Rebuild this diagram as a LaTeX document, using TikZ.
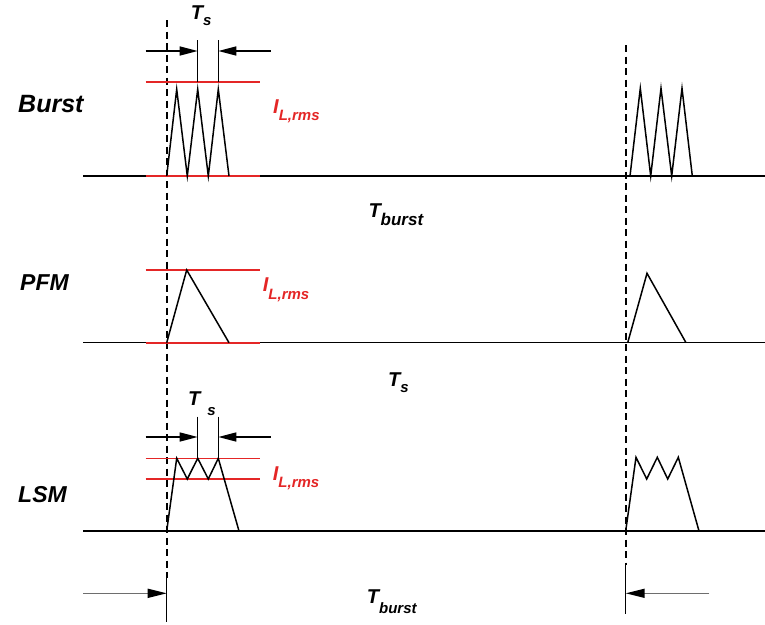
\documentclass[tikz,border=0pt]{standalone}
\usepackage{fontspec}
\setmainfont{Liberation Sans}
\usetikzlibrary{arrows.meta, positioning}
\definecolor{rmsred}{RGB}{228,38,38}
\definecolor{dimgrey}{RGB}{110,110,110}
\newcommand{\sublabel}[4]{#1\raisebox{-#4}{\fontsize{#3}{#3}\selectfont #2}}

\begin{document}
\begin{tikzpicture}[x=1pt, y=-1pt,
  wave/.style={line width=1.5pt, line join=miter},
  rmsline/.style={line width=1.6pt, draw=rmsred},
  guide/.style={line width=1.6pt, dash pattern=on 7pt off 4.5pt},
  dimarr/.style={line width=1.5pt, -{Triangle[length=18pt, width=9pt]}},
  farr/.style={dimarr, draw=dimgrey, -{Triangle[length=19pt, width=9pt, color=black]}},
  modename/.style={font=\fontsize{25}{25}\selectfont\bfseries\itshape, anchor=base west, inner sep=0},
  tlabel/.style={font=\fontsize{20}{20}\selectfont\bfseries\itshape, anchor=base west, inner sep=0},
  rmslabel/.style={tlabel, text=rmsred}
]
\useasboundingbox (0,0) rectangle (765,624);

% mode names
\node[modename] (burst) at (18,112.3) {Burst};
\node[modename, font=\fontsize{23}{23}\selectfont\bfseries\itshape] (pfm) at (20,290) {PFM};
\node[modename, font=\fontsize{23}{23}\selectfont\bfseries\itshape] (lsm) at (18,502) {LSM};

% time guides
\coordinate (gAtop) at (166.7,20);
\coordinate (gAmid) at (166.7,578);
\coordinate (gAbot) at (166.7,622);
\coordinate (gBtop) at (625.7,45);
\coordinate (gBmid) at (625.7,565);
\coordinate (gBbot) at (625.7,614);
\draw[guide] (gAtop) -- (gAmid);
\draw[guide] (gBtop) -- (gBmid);
\draw[wave] (gAmid) -- (gAbot);
\draw[wave] (gBmid) -- (gBbot);

%% Burst
\draw[wave] (83,176) -- (765,176);
\draw[rmsline] (145.7,81.7) -- (260.3,81.7);
\draw[rmsline] (145.7,175.7) -- (260.3,175.7);
\draw[wave] (166.7,176) -- (176.7,89.3) -- (187.3,176) -- (197.7,89.3)
  -- (208.3,176) -- (218.3,89.3) -- (229,176);
\draw[wave] (630,176) -- (640.3,88.3) -- (650.7,176) -- (661,88.3)
  -- (671.7,176) -- (682,88.3) -- (692.3,176);
\draw[wave] (197.7,40) -- (197.7,81.7);
\draw[wave] (218.3,40) -- (218.3,81.7);
\coordinate (bL0) at (145.7,51);
\coordinate (bL1) at (197.7,51);
\coordinate (bR0) at (270.7,51);
\coordinate (bR1) at (218.3,51);
\draw[dimarr] (bL0) -- (bL1);
\draw[dimarr] (bR0) -- (bR1);
\node[tlabel] (bts) at (190.7,19.3) {\sublabel{T}{s}{15pt}{5.7pt}};
\node[rmslabel] (brms) at (273,113.3) {\sublabel{I}{L,rms}{15pt}{7.4pt}};
\node[tlabel] (tburst) at (368.3,217.7) {\sublabel{T}{burst}{17pt}{7.3pt}};

%% PFM
\draw[wave] (83,342.7) -- (765,342.7);
\draw[rmsline] (145.7,270) -- (260.3,270);
\draw[rmsline] (145.7,342.7) -- (260.3,342.7);
\draw[wave] (166.7,342.7) -- (186.7,270) -- (229,342.7);
\draw[wave] (627.7,342.7) -- (647,273.3) -- (686,342.7);
\node[rmslabel] (prms) at (262.7,291.7) {\sublabel{I}{L,rms}{15pt}{7.4pt}};
\node[tlabel] (pts) at (388,386) {\sublabel{T}{s}{15pt}{6pt}};

%% LSM
\draw[wave] (83,531) -- (765,531);
\draw[rmsline] (145.7,458.3) -- (260.3,458.3);
\draw[rmsline] (145.7,479) -- (260.3,479);
\draw[wave] (166.7,531) -- (176.7,458.3) -- (187.3,479) -- (197.7,458.3)
  -- (208.3,479) -- (218.3,458.3) -- (239,531);
\draw[wave] (625.7,531) -- (636,457.3) -- (646.7,479) -- (657.3,457.3)
  -- (667.7,479) -- (678.3,457.3) -- (699,531);
\draw[wave] (197.7,416.7) -- (197.7,458.3);
\draw[wave] (218.3,416.7) -- (218.3,458.3);
\coordinate (lL0) at (145.7,437);
\coordinate (lL1) at (197.7,437);
\coordinate (lR0) at (270.7,437);
\coordinate (lR1) at (218.3,437);
\draw[dimarr] (lL0) -- (lL1);
\draw[dimarr] (lR0) -- (lR1);
\node[tlabel] (lts) at (188,405) {T\kern7pt\raisebox{-10pt}{\fontsize{15}{15}\selectfont s}};
\node[rmslabel] (lrms) at (272.7,480) {\sublabel{I}{L,rms}{15pt}{7.4pt}};

%% period
\coordinate (fL0) at (83,593.3);
\coordinate (fR0) at (709.3,593.3);
\draw[farr] (fL0) -- (gAmid |- fL0);
\draw[farr] (fR0) -- (gBmid |- fR0);
\node[tlabel] (fburst) at (366.7,603.3) {\sublabel{T}{burst}{15pt}{10pt}};
\end{tikzpicture}
\end{document}
